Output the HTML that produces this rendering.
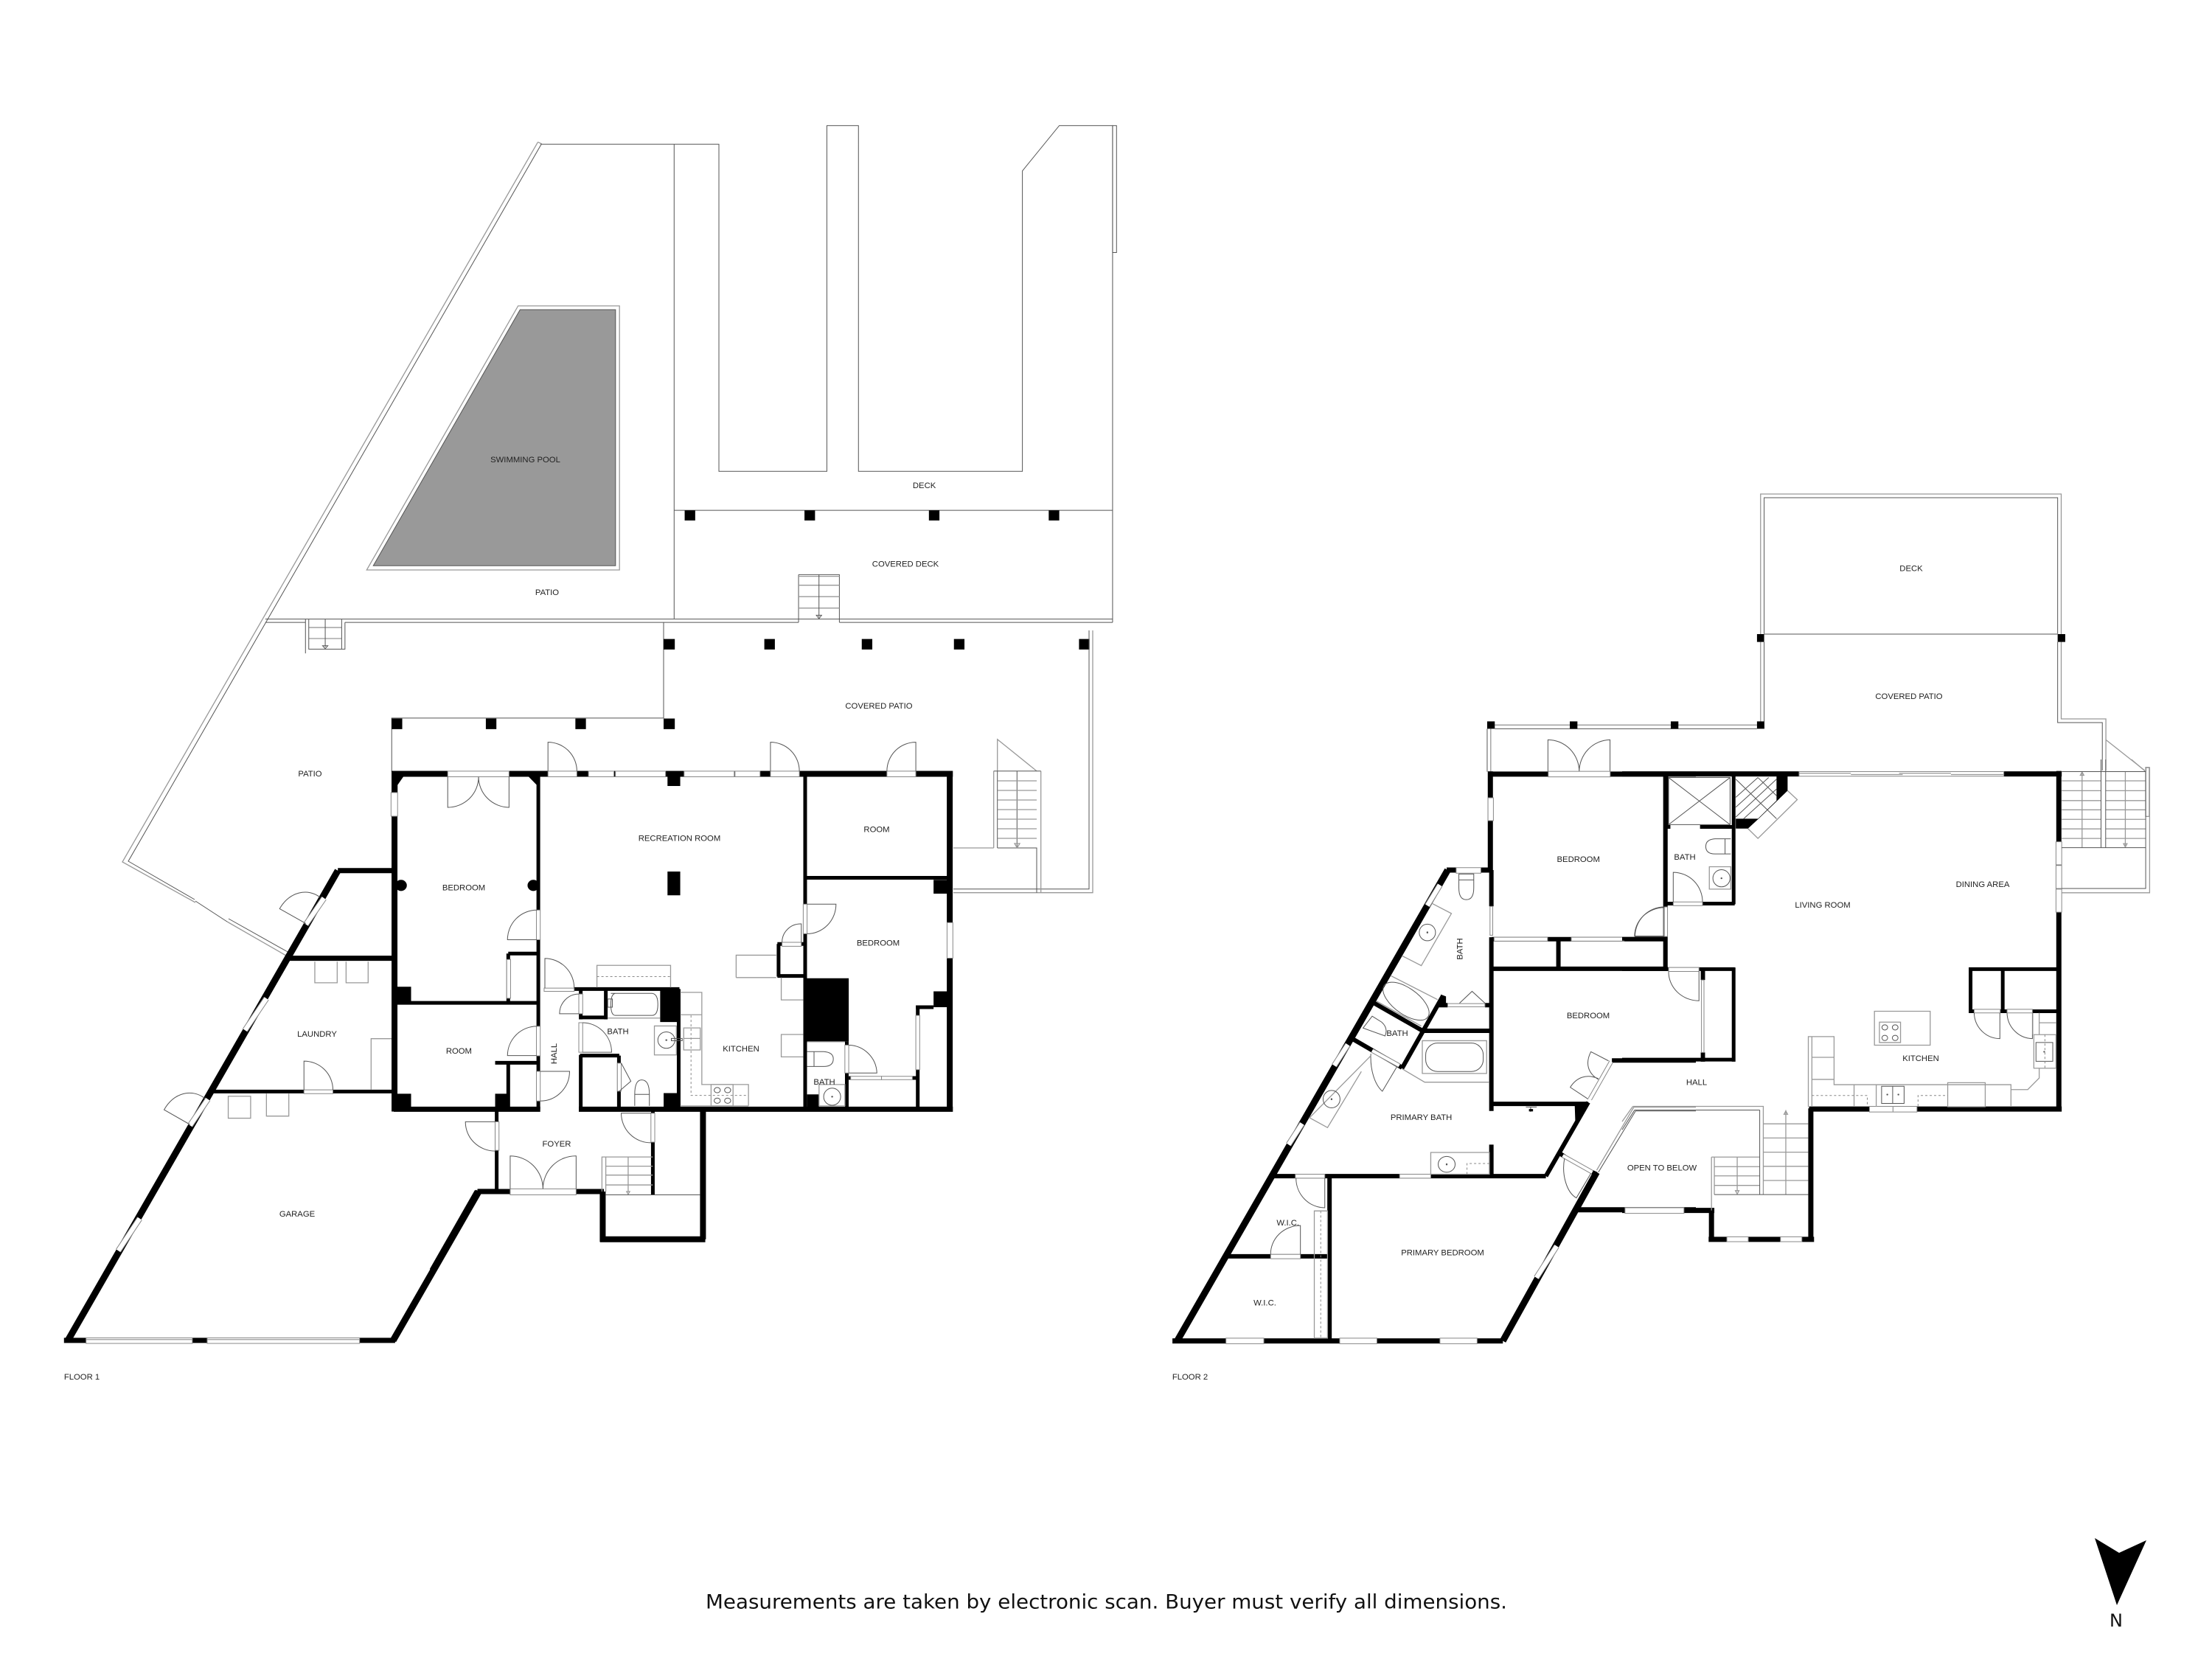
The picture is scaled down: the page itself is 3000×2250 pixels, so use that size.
<!DOCTYPE html>
<html><head><meta charset="utf-8"><title>Floor plan</title>
<style>
html,body{margin:0;padding:0;background:#fff;width:3000px;height:2250px;overflow:hidden}
svg{display:block}
svg *{vector-effect:non-scaling-stroke}
.w4,.w5,.w6,.w7,.w8,.w9,.w10{fill:none;stroke:#000;stroke-linejoin:miter}
.w4{stroke-width:4}.w5{stroke-width:5}.w6{stroke-width:6}.w7{stroke-width:7}.w8{stroke-width:8}.w9{stroke-width:9}.w10{stroke-width:10}
.k{fill:#000;stroke:none}
.dot{fill:#555;stroke:none}
.l{fill:none;stroke:#555;stroke-width:1}
.g{fill:none;stroke:#999;stroke-width:1.3}
.gg{fill:none;stroke:#aaa;stroke-width:2}
.d{fill:none;stroke:#888;stroke-width:1;stroke-dasharray:3 3}
.n{fill:#fff;stroke:#888;stroke-width:1}
.wo{fill:none;stroke:#888;stroke-width:8}
.wi{fill:none;stroke:#fff;stroke-width:6}
text{font-family:"Liberation Sans",sans-serif;font-size:11.3px;fill:#222;text-anchor:middle;dominant-baseline:central}
</style></head><body>
<svg xmlns="http://www.w3.org/2000/svg" width="3000" height="2250" viewBox="0 0 3000 2250">
<rect width="3000" height="2250" fill="#fff"/>

<!-- FLOOR 1 exterior -->
<g transform="translate(150,160) scale(.89286,.57398)">
<polygon points="622,453 767,453 767,1058 399,1058" fill="#999" stroke="#555" stroke-width="1"/>
<polygon class="g" points="619,444 773,444 773,1068 389,1068"/>
<path class="l" d="M653 62H924V835H1088V18H1136V835H1385V125L1441 18H1522V1192M856 62V1183M856 927H1522M235 1184H1522M1522 1192H1107M1045 1192H356M296 1192H235M840 1192V1418H427V1545M1045 1079H1107V1192M1045 1079V1192"/>
<rect class="l" x="1522" y="18" width="6" height="300"/>
<path class="g" d="M1045 1083H1107M1045 1104H1107M1045 1131H1107M1045 1158H1107"/>
<path class="l" d="M1076 1079V1180M1072 1175H1080L1076 1183Z"/>
<path class="g" d="M301 1204H351M301 1230H351"/>
<path class="l" d="M296 1184V1265M301 1184V1255H356V1192M326 1184V1250M322 1247H330L326 1254Z M351 1184V1255"/>
<path class="k" d="M872 927h16v24h-16zM1054 927h16v24h-16zM1243 927h16v24h-16zM1425 927h16v24h-16zM840 1231h17v25h-17zM993 1231h16v25h-16zM1141 1231h16v25h-16zM1281 1231h16v25h-16zM1471 1231h16v25h-16zM427 1419h16v25h-16zM570 1419h16v25h-16zM706 1419h16v25h-16zM840 1419h17v25h-17z"/>
</g>
<!-- real-coord exterior lines F1 -->
<g>
<path class="g" d="M729.5 192.7L166 1169L265 1224M729.5 192.7L734.5 195M308 1250L388 1296"/>
<path class="l" d="M734.5 195L174 1168L264 1220M310 1246L392 1292"/>
<path class="l" d="M265 1222L308 1250"/>
<path class="l" d="M1477 855V1205.7H1293"/><path class="g" d="M1482 855V1210.7H1293"/>
<path class="g" d="M1352.7 1045.7V1002.7L1406 1045.7M1347.7 1045.7V1150M1411.7 1045.7V1210.7"/>
<path class="l" d="M1347.7 1045.7H1411.7M1352.7 1150H1406V1210.7M1352.7 1045.7V1150M1379.3 1045.7V1150"/>
<path class="g" d="M1293 1150H1347.7M1353 1059H1406M1353 1072H1406M1353 1085H1406M1353 1098H1406M1353 1111H1406M1353 1124H1406M1353 1137H1406"/>
<path class="g" d="M1376 1144H1383L1379.5 1150Z"/>
</g>

<!-- FLOOR 1 garage/laundry (diagonals) -->
<g transform="translate(60,1000) scale(.44643,.57398)">
<path class="w9" d="M72 1425L892 315M1060 1425L1320 1073"/>
<path class="w7" d="M60 1425H1066M892 315H1060M1318 1073H1380"/>
<path class="w7" d="M745 522H1066"/>
<path class="w5" d="M510 837H1066M1062 522V840"/>
<rect x="127" y="1419" width="323" height="13" fill="#fff" stroke="#888"/><rect x="495" y="1419" width="463" height="13" fill="#fff" stroke="#888"/>
<path class="g" d="M127 1423H450M495 1423H958"/>
<path class="wo" d="M795 442L850 380M610 692L675 617M225 1213L290 1137M443 917L497 855"/>
<path class="wi" d="M795 442L850 380M610 692L675 617M225 1213L290 1137M443 917L497 855"/>
<rect class="n" x="789" y="833" width="88" height="9"/>
<path class="g" d="M822 530V580H890V530M917 530V580H984V530M559 848H627V900H559ZM675 842V895H743V842M993 833V712H1060"/>
<path class="l" d="M795 440L715 405C745 365 800 355 838 378M443 915L364 880C395 838 450 830 488 853M789 833V765A88 68 0 0 1 877 833"/>
</g>

<!-- FLOOR 1 core -->
<g transform="translate(500,1020) scale(.52296,.44643)">
<path class="w8" d="M60 66H1515M67 58V1092M1507 58V1092M867 1085V1480M607 1335V1488M600 1480H873"/>
<path class="w7" d="M65 1085H445M545 1085H1515M282 1335H610"/>
<path class="w8" d="M282 1335L165 1575"/>
<path class="w5" d="M440 66V1085M1132 66V1085M1132 382H1510M67 762H440M362 612H440M362 612V762M328 944H440M362 944V1085M533 720H806M550 720V812M550 806H615M615 720V812M804 720V1085M548 922H650M649 922V1085M550 920V1085M1060 583H1130M1063 583V682M1060 680H1130M1240 880V1085M1424 770V1085M1419 775H1465M1245 990H1420M332 1085V1340M737 1085V1345"/>
<path class="k" d="M60 58H100L75 100V125H60ZM415 75H440V105ZM65 713h45v49h-45zM65 1038h45v47h-45zM328 1038h37v47h-37zM765 1036h41v49h-41zM756 720h50v100h-50zM1132 687h113v193h-113zM1137 1040h31v45h-31zM1465 388h42v42h-42zM1465 727h42v48h-42zM775 75h33v28h-33zM775 363h33v72h-33z"/>
<ellipse class="k" cx="84" cy="405" rx="15" ry="17"/><ellipse class="k" cx="427" cy="405" rx="15" ry="17"/>
<g class="n">
<rect x="205" y="58" width="159" height="17"/><rect x="465" y="58" width="75" height="17"/><rect x="570" y="58" width="66" height="17"/><rect x="640" y="58" width="130" height="17"/><rect x="818" y="58" width="130" height="17"/><rect x="950" y="58" width="65" height="17"/><rect x="1042" y="58" width="75" height="17"/><rect x="1344" y="58" width="75" height="17"/>
<rect x="58" y="123" width="17" height="72"/><rect x="1500" y="518" width="15" height="108"/><rect x="435" y="480" width="10" height="90"/><rect x="435" y="833" width="10" height="90"/><rect x="435" y="970" width="10" height="90"/><rect x="358" y="630" width="10" height="118"/><rect x="455" y="717" width="78" height="10"/><rect x="545" y="735" width="10" height="60"/><rect x="545" y="822" width="10" height="90"/><rect x="645" y="945" width="10" height="85"/><rect x="1072" y="578" width="50" height="12"/><rect x="1127" y="462" width="10" height="90"/><rect x="1235" y="890" width="10" height="85"/><rect x="1250" y="985" width="80" height="10"/><rect x="1330" y="985" width="80" height="10"/><rect x="1419" y="800" width="10" height="165"/><rect x="328" y="1123" width="10" height="87"/><rect x="367" y="1327" width="171" height="18"/><rect x="732" y="1097" width="10" height="88"/>
</g>
<path class="l" d="M465 58V-30A75 88 0 0 1 540 58M1042 58V-30A75 88 0 0 1 1117 58M1419 58V-30A75 88 0 0 0 1344 58"/>
<path class="l" d="M205 75V168A80 93 0 0 0 285 75M364 75V168A80 93 0 0 1 285 75M436 480A76 90 0 0 0 360 570H436M436 833A76 90 0 0 0 360 922H436M445 970H521V972A76 90 0 0 1 445 1060M457 717V627A76 90 0 0 1 533 717M545 735A50 60 0 0 0 495 795H545M555 822A76 90 0 0 1 630 912H555M1072 578A48 56 0 0 1 1122 522V578M1137 462H1212A75 90 0 0 1 1137 552M1245 890A75 88 0 0 1 1318 975H1245M328 1123H251A77 88 0 0 0 328 1212M367 1327V1227A85 100 0 0 1 452 1327M538 1327V1227A85 100 0 0 0 452 1327M732 1097H655A77 90 0 0 0 732 1187"/>
<path class="g" d="M592 715V648H783V715M953 685V617H1057M953 685H1057M1070 685V753H1127M1127 858H1070V926H1127M808 730H864V1010H985V1075M808 798H864M620 808H756M808 1075H985M615 1230H737M605 1335V1230H615V1335M615 1258H737M615 1285H737M615 1315H737M1137 880H1235"/>
<path class="d" d="M592 682H783M836 800V1043H985"/>
<path class="g" d="M673 1230V1335M669 1335H677L673 1343Z"/>
<path class="l" d="M615 1345H860M628 733H735Q750 735 750 766Q750 800 735 800H640Q628 800 628 766Q628 735 640 733ZM620 750H632V775H620Z"/>
<rect class="g" x="741" y="832" width="57" height="88"/><ellipse class="l" cx="772" cy="875" rx="22" ry="25"/><circle class="dot" cx="772" cy="875" r="2.5"/>
<rect class="g" x="817" y="838" width="43" height="67"/><path class="g" d="M817 870H860"/><rect class="l" x="785" y="870" width="28" height="7"/>
<path class="l" d="M690 1075V1040H728V1075M690 1040Q690 996 708 996Q728 996 728 1040M655 945L680 1000L650 1030"/>
<rect class="g" x="888" y="1010" width="57" height="65"/>
<g class="l"><circle cx="904" cy="1027" r="8"/><circle cx="931" cy="1027" r="8"/><circle cx="904" cy="1059" r="8"/><circle cx="931" cy="1059" r="8"/></g>
<path class="l" d="M1137 910H1180Q1205 912 1205 932Q1205 955 1180 955H1137M1155 910V955"/>
<rect class="g" x="1168" y="1010" width="67" height="65"/><ellipse class="l" cx="1202" cy="1047" rx="22" ry="26"/><circle class="dot" cx="1202" cy="1047" r="2.5"/>
</g>

<!-- F1 labels -->
<text x="742" y="804">PATIO</text><text x="712.5" y="624">SWIMMING POOL</text><text x="1253.6" y="659">DECK</text><text x="1228" y="765.4">COVERED DECK</text><text x="1192" y="958">COVERED PATIO</text><text x="420.5" y="1050">PATIO</text><text x="629" y="1204.5">BEDROOM</text><text x="921.5" y="1137.5">RECREATION ROOM</text><text x="1189" y="1125.5">ROOM</text><text x="1191" y="1279.5">BEDROOM</text><text x="622.4" y="1426">ROOM</text><text transform="translate(752,1429) rotate(-90)">HALL</text><text x="838" y="1399.6">BATH</text><text x="1005" y="1423">KITCHEN</text><text x="1118" y="1468">BATH</text><text x="755" y="1552">FOYER</text><text x="430" y="1403">LAUNDRY</text><text x="403" y="1647">GARAGE</text>
<text x="111" y="1868">FLOOR 1</text>

<!-- FLOOR 2 exterior -->
<g transform="translate(2000,650) scale(.60587,.33333)">
<path class="g" d="M640 635V60H1313V630M1313 662V975H1413V1185M640 662V1000M45 1000H632M36 1015V1190"/>
<path class="l" d="M648 630V75H1305V630M1305 662V990H1405V1185M648 662V1015M45 1015H632M28 1015V1190"/>
<path class="g" d="M1413 1060L1500 1185"/>
<path class="gg" d="M648 630H1305"/>
<rect class="g" x="1502" y="1172" width="8" height="200"/>
<path class="k" d="M632 630h16v32h-16zM1305 630h17v32h-17zM632 985h16v30h-16zM28 985h17v30h-17zM213 985h17v30h-17zM439 985h17v30h-17z"/>
<path class="l" d="M164 1190V1060A70 130 0 0 1 234 1190M303 1190V1060A70 130 0 0 0 234 1190"/>
</g>

<!-- FLOOR 2 west -->
<g transform="translate(1580,1030) scale(.45918,.53571)">
<path class="w9" d="M36 1472L835 280M998 1472L1275 1045"/>
<path class="w7" d="M832 280H965M954 37H1568M961 30V280M22 1472H998M1220 1140H1568"/>
<path class="w6" d="M964 280V372M964 450V890M964 975V1055M1478 37V530M965 455H1478M1162 455V530M965 530H1485M320 1055H1125M1125 1055L1250 868M964 872H1250M486 1055V1472M180 1258H486M618 617L757 685M555 708L700 780M700 782L820 600M762 687H964M808 622H835M945 622H960M1320 762H1568M1167 998L1180 1005M1262 1045L1275 1050"/>
<path class="k" d="M1210 870L1252 870L1212 920ZM815 595L830 600V625H808Z"/>
<g class="n">
<rect x="860" y="274" width="73" height="14"/><rect x="954" y="97" width="16" height="58"/><rect x="960" y="372" width="8" height="73"/><rect x="1132" y="30" width="183" height="14"/><rect x="972" y="450" width="158" height="10"/><rect x="1200" y="450" width="156" height="10"/><rect x="1473" y="375" width="10" height="72"/><rect x="385" y="1050" width="87" height="10"/><rect x="693" y="1050" width="92" height="10"/><rect x="312" y="1253" width="88" height="11"/><rect x="180" y="1465" width="112" height="14"/><rect x="516" y="1465" width="110" height="14"/><rect x="812" y="1465" width="110" height="14"/><rect x="835" y="618" width="110" height="8"/>
</g>
<path class="wo" d="M775 370L812 318M500 775L540 722M365 975L405 922M1097 1312L1157 1232"/>
<path class="wi" d="M775 370L812 318M500 775L540 722M365 975L405 922M1097 1312L1157 1232"/>
<path d="M612 737L692 775M1175 1003L1262 1045M1255 860L1318 765" stroke="#888" stroke-width="6" fill="none"/>
<path d="M612 737L692 775M1175 1003L1262 1045M1255 860L1318 765" stroke="#fff" stroke-width="4" fill="none"/>
<path class="l" d="M1475 375A88 72 0 0 0 1387 447H1475M472 1060V1135A86 75 0 0 1 387 1060M312 1253A88 72 0 0 1 400 1180V1253M685 778L642 840A60 95 0 0 1 608 745M1258 1048L1215 1110A55 80 0 0 1 1180 1010M1310 763L1258 740C1240 770 1250 795 1280 810M1250 860L1197 830C1215 805 1245 795 1280 808"/>
<path class="g" d="M790 365L846 390L757 522L700 497M668 548L805 608M757 675L625 612M608 750L427 907L480 932L580 790M700 783L767 817H958M1275 1040L1385 880H1568"/>
<path class="l" d="M1280 1045L1390 890H1568"/>
<ellipse class="l" cx="712" cy="612" rx="76" ry="34" transform="rotate(30 712 612)"/>
<ellipse class="l" cx="775" cy="438" rx="24" ry="21"/><ellipse class="l" cx="492" cy="860" rx="25" ry="22"/><ellipse class="l" cx="832" cy="1025" rx="25" ry="20"/>
<circle class="dot" cx="775" cy="438" r="2.5"/><circle class="dot" cx="492" cy="860" r="2.5"/><circle class="dot" cx="832" cy="1025" r="2.5"/>
<rect class="g" x="760" y="712" width="190" height="83"/><rect class="l" x="770" y="718" width="170" height="72" rx="35" ry="30"/>
<rect class="g" x="785" y="995" width="173" height="55"/><path class="d" d="M892 1050V1023H958"/>
<rect class="g" x="441" y="1143" width="39" height="322"/><path class="d" d="M460 1143V1465"/>
<path class="l" d="M868 305V290H912V305ZM868 305V325Q868 355 890 355Q912 355 912 325V305M870 617L907 587L945 617M612 650L585 680L650 700Q660 680 640 665ZM1080 880V892M1066 880H1098"/>
<path class="k" d="M1075 885h12v6h-12z"/>
</g>

<!-- FLOOR 2 east -->
<g transform="translate(2200,1030) scale(.48469,.44643)">
<path class="w7" d="M0 44H495M1068 44H1230M1222 35V1070M523 1062H1230M528 1060V1465M242 1458H537M250 1370V1465M0 1370H258"/>
<path class="w5" d="M124 44V210M312 44V440M120 205H135M218 205H312M122 210V640M122 438H315M0 545H125M0 637H315M312 632V918M0 912H315M975 637H1222V765H975ZM1065 637V765"/>
<path class="k" d="M432 50H463V95L380 182L352 210H318V180H380L432 125ZM220 640h12v30h-12zM220 890h12v28h-12z"/>
<path class="l" d="M318 115L380 55M318 145L410 55M318 175L432 60M340 180L432 90M318 60L432 180M380 55L432 110M130 55L302 198M302 55L130 198"/>
<rect class="l" x="130" y="55" width="172" height="143"/>
<path class="g" d="M463 95L490 122L380 240L352 210"/>
<g class="n">
<rect x="495" y="37" width="573" height="14"/><rect x="692" y="1054" width="133" height="17"/><rect x="1214" y="250" width="16" height="70"/><rect x="1214" y="322" width="16" height="70"/><rect x="1214" y="394" width="16" height="70"/><rect x="293" y="1450" width="60" height="15"/><rect x="443" y="1450" width="60" height="15"/><rect x="8" y="1362" width="165" height="17"/><rect x="143" y="433" width="82" height="11"/><rect x="118" y="448" width="9" height="90"/><rect x="130" y="632" width="85" height="12"/><rect x="222" y="670" width="7" height="220"/><rect x="985" y="759" width="73" height="11"/><rect x="1077" y="759" width="71" height="11"/>
</g>
<path class="g" d="M495 42H640M640 46H785M775 42H920M920 46H1068M758 1054V1071"/>
<path class="l" d="M143 433V343A82 90 0 0 1 225 433M118 448A82 90 0 0 0 36 538H118M215 644V733A85 88 0 0 1 130 644M1057 770V848A72 80 0 0 1 985 770M1148 770V848A72 80 0 0 1 1077 770"/>
<rect class="g" x="706" y="765" width="156" height="103"/><rect class="g" x="720" y="798" width="59" height="62"/>
<g class="l"><circle cx="735" cy="814" r="8"/><circle cx="764" cy="814" r="8"/><circle cx="735" cy="846" r="8"/><circle cx="764" cy="846" r="8"/></g>
<path class="g" d="M521 1055V842H593V988H1088V1055M531 842V1055M531 905H593M531 972H593M649 988V1055M711 988V1055M911 982H1016V1055H911ZM1088 1003H1135L1167 968V938M1149 770V836M1167 770V836M1167 800H1214M1152 836H1214V938H1152Z"/>
<rect class="l" x="726" y="993" width="63" height="52"/><path class="l" d="M757 993V1045M1158 860H1205V917H1158Z"/>
<circle class="dot" cx="742" cy="1018" r="2.5"/><circle class="dot" cx="773" cy="1018" r="2.5"/><circle class="dot" cx="1181" cy="888" r="2.5"/>
<path class="d" d="M531 1021H686V1053M828 1053V1021H911M1183 836V938"/>
<rect class="g" x="244" y="326" width="60" height="68"/><ellipse class="l" cx="278" cy="361" rx="24" ry="26"/><circle class="dot" cx="278" cy="361" r="2.5"/>
<path class="l" d="M304 241H260Q234 243 234 264Q234 287 260 287H304M288 241V287"/>
<path class="g" d="M395 1065V1322M395 1107H521M395 1150H521M395 1193H521M395 1236H521M395 1279H521M258 1237H385M258 1265H385M258 1294H385M250 1208H385M250 1208V1370M258 1208V1322M1230 65H1340M1230 95H1340M1230 125H1340M1230 153H1340M1230 182H1340M1230 211H1340M1230 240H1340M1353 65H1465M1353 95H1465M1353 125H1465M1353 153H1465M1353 182H1465M1353 211H1465M1353 240H1465M458 1065V1322M453 1078H463L458 1068ZM322 1208V1312M317 1310H327L322 1320ZM1287 37V268M1282 48H1292L1287 38ZM1408 37V262M1403 256H1413L1408 266ZM1465 37L1425 0"/>
<path class="l" d="M385 1065V1322M35 1065H385M35 1065L0 1125M258 1322H521M1230 268H1465M1465 37V392H1230M1340 0V268M1353 0V268M1230 37H1465"/>
<path class="g" d="M30 1054H395V1065M30 1054L0 1100M1230 405H1476V25H1466V37"/>
</g>

<!-- F2 labels -->
<text x="2140.7" y="1166">BEDROOM</text><text x="2285" y="1163">BATH</text><text transform="translate(1980.4,1287) rotate(-90)">BATH</text><text x="1895" y="1402">BATH</text><text x="2154" y="1378">BEDROOM</text><text x="1927.6" y="1516">PRIMARY BATH</text><text x="2254" y="1584.6">OPEN TO BELOW</text><text x="1746.7" y="1659">W.I.C.</text><text x="1956.5" y="1699.6">PRIMARY BEDROOM</text><text x="1715.5" y="1767.6">W.I.C.</text><text x="2592" y="771.7">DECK</text><text x="2589" y="945">COVERED PATIO</text><text x="2472" y="1228">LIVING ROOM</text><text x="2689" y="1200">DINING AREA</text><text x="2605" y="1436">KITCHEN</text><text x="2301" y="1468.5">HALL</text>
<text x="1614" y="1868">FLOOR 2</text>

<!-- footer -->
<text x="1500.5" y="2173" style="font-family:'DejaVu Sans',sans-serif;font-size:27px;fill:#111" textLength="1087" lengthAdjust="spacingAndGlyphs">Measurements are taken by electronic scan. Buyer must verify all dimensions.</text>
<polygon class="k" points="2841,2086 2874,2106 2911,2089 2871,2177"/>
<text x="2870" y="2198" style="font-family:'DejaVu Sans',sans-serif;font-size:24px;fill:#111">N</text>
</svg>
</body></html>
